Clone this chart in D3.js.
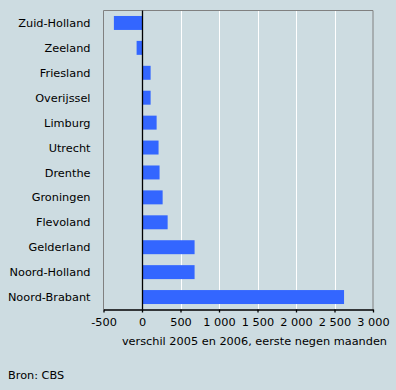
<!DOCTYPE html>
<html><head><meta charset="utf-8">
<script src="https://cdn.jsdelivr.net/npm/d3@7"></script>
<style>
html,body{margin:0;padding:0;background:#cddce1;}
svg{display:block;font-family:"DejaVu Sans",Verdana,sans-serif;}
</style></head>
<body>
<script>
const categories = ["Zuid-Holland","Zeeland","Friesland","Overijssel","Limburg","Utrecht","Drenthe","Groningen","Flevoland","Gelderland","Noord-Holland","Noord-Brabant"];
const values = [-365, -70, 112, 112, 190, 215, 228, 268, 333, 683, 683, 2624];
const tickValues = [-500, 0, 500, 1000, 1500, 2000, 2500, 3000];
const tickLabels = ["-500","0","500","1\u00a0000","1\u00a0500","2\u00a0000","2\u00a0500","3\u00a0000"];
const axisTitle = "verschil 2005 en 2006, eerste negen maanden";
const source = "Bron: CBS";

const W = 396, H = 390;
const mLeft = 103.5, mRight = 373, mTop = 10.5, mBottom = 309.5;
const FS = 11.3;

const svg = d3.select("body").append("svg").attr("width", W).attr("height", H);
svg.append("rect").attr("width", W).attr("height", H).attr("fill", "#cddce1");

const x = d3.scaleLinear().domain([-500, 3000]).range([mLeft, mRight]);
const y = d3.scaleBand().domain(categories).range([mTop, mBottom]).paddingInner(0.44).paddingOuter(0.22);

// gridlines
svg.append("g").selectAll("line").data(tickValues.filter(v => v > 0 && v < 3000)).join("line")
  .attr("x1", d => Math.round(x(d)) + 0.5).attr("x2", d => Math.round(x(d)) + 0.5)
  .attr("y1", mTop).attr("y2", mBottom)
  .attr("stroke", "#ffffff").attr("stroke-width", 1);

// frame (left, top, right)
svg.append("path")
  .attr("d", `M${mLeft},${mBottom} V${mTop} H${mRight} V${mBottom}`)
  .attr("fill", "none").attr("stroke", "#808080").attr("stroke-width", 1);

// bars
svg.append("g").selectAll("rect").data(categories).join("rect")
  .attr("x", (d, i) => x(Math.min(0, values[i])))
  .attr("width", (d, i) => Math.abs(x(values[i]) - x(0)))
  .attr("y", d => y(d))
  .attr("height", y.bandwidth())
  .attr("fill", "#3366ff");

// zero line
svg.append("line")
  .attr("x1", Math.round(x(0)) + 0.5).attr("x2", Math.round(x(0)) + 0.5)
  .attr("y1", mTop).attr("y2", mBottom)
  .attr("stroke", "#000").attr("stroke-width", 1.3);

// category labels
svg.append("g").selectAll("text").data(categories).join("text")
  .attr("x", 90.5)
  .attr("y", d => y(d) + y.bandwidth() / 2)
  .attr("dy", "0.36em")
  .attr("text-anchor", "end")
  .attr("font-size", FS)
  .attr("fill", "#000")
  .text(d => d);

// x axis
const xAxis = d3.axisBottom(x).tickValues(tickValues)
  .tickFormat((d, i) => tickLabels[i]).tickSize(3).tickSizeOuter(0).tickPadding(5);
const gx = svg.append("g").attr("transform", `translate(0,${mBottom})`).call(xAxis);
gx.select(".domain").attr("stroke", "#000").attr("stroke-width", 1.3);
gx.selectAll(".tick line").attr("stroke", "#000").attr("stroke-width", 1.3);
gx.selectAll(".tick text").attr("font-size", FS).attr("fill", "#000")
  .attr("font-family", "\"DejaVu Sans\",Verdana,sans-serif");

// axis title
svg.append("text").attr("x", 387).attr("y", 345)
  .attr("text-anchor", "end").attr("font-size", FS).attr("fill", "#000")
  .text(axisTitle);

// source
svg.append("text").attr("x", 8).attr("y", 379)
  .attr("font-size", FS).attr("fill", "#000")
  .text(source);
</script>
</body></html>
